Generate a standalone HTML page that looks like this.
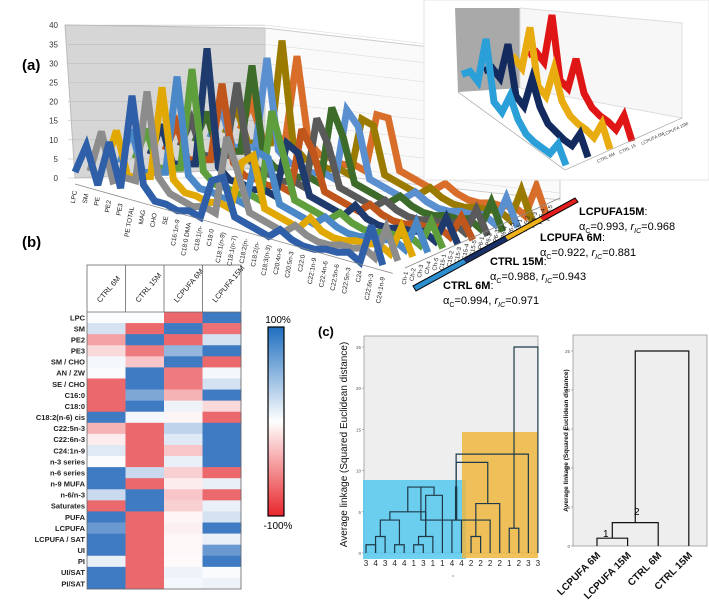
<!DOCTYPE html>
<html><head><meta charset="utf-8">
<style>
html,body{margin:0;padding:0;background:#fff;}
svg{display:block;font-family:"Liberation Sans",sans-serif;}
</style></head>
<body>
<svg id="fig" width="709" height="600" viewBox="0 0 709 600">
  <text x="22" y="70" font-size="15" font-weight="bold">(a)</text>
  <text x="22" y="247" font-size="15" font-weight="bold">(b)</text>
  <text x="318" y="336" font-size="13" font-weight="bold">(c)</text>

  <g>
    <polygon points="65,25 265,28 265,168 75,178" fill="#d6d6d6" stroke="#bbb"/>
    <polygon points="265,28 560,62 560,200 265,168" fill="#fafafa" stroke="#ccc"/>
    <g id="grid3d"></g>
    <g id="ribbons"></g>
    <g id="axis3d"></g>
  </g>

  <g>
    <rect x="424" y="0" width="285" height="180" fill="#fff" stroke="#e4e4e4"/>
    <polygon points="455,8 520,8 520,88 458,92" fill="#a9a9a9"/>
    <polygon points="520,8 682,23 682,118 520,88" fill="#f7f7f7" stroke="#ddd"/>
    <g id="inset"></g>
  </g>

  <g>
    <polygon points="413,286 463,259 466,263 416,291" fill="#2e8fd0"/>
    <polygon points="463,259 505,236 508,240 466,263" fill="#172f66"/>
    <polygon points="505,236 540,217 543,221 508,240" fill="#f0b21a"/>
    <polygon points="540,217 575,198 578,202 543,221" fill="#e21d1d"/>
    <polygon points="413,286 575,198 578,202 416,291" fill="none" stroke="#000" stroke-width="1"/>
    <g font-size="11">
      <text x="579" y="215" font-weight="bold">LCPUFA15M<tspan font-weight="normal">:</tspan></text>
      <text x="579" y="230">α<tspan font-size="7" dy="3">C</tspan><tspan dy="-3">=0.993, </tspan><tspan font-style="italic">r</tspan><tspan font-size="7" dy="3" font-style="italic">IC</tspan><tspan dy="-3">=0.968</tspan></text>
      <text x="540" y="241" font-weight="bold">LCPUFA 6M<tspan font-weight="normal">:</tspan></text>
      <text x="540" y="256">α<tspan font-size="7" dy="3">C</tspan><tspan dy="-3">=0.922, </tspan><tspan font-style="italic">r</tspan><tspan font-size="7" dy="3" font-style="italic">IC</tspan><tspan dy="-3">=0.881</tspan></text>
      <text x="490" y="265" font-weight="bold">CTRL 15M<tspan font-weight="normal">:</tspan></text>
      <text x="490" y="280">α<tspan font-size="7" dy="3">C</tspan><tspan dy="-3">=0.988, </tspan><tspan font-style="italic">r</tspan><tspan font-size="7" dy="3" font-style="italic">IC</tspan><tspan dy="-3">=0.943</tspan></text>
      <text x="443" y="289" font-weight="bold">CTRL 6M<tspan font-weight="normal">:</tspan></text>
      <text x="443" y="304">α<tspan font-size="7" dy="3">C</tspan><tspan dy="-3">=0.994, </tspan><tspan font-style="italic">r</tspan><tspan font-size="7" dy="3" font-style="italic">IC</tspan><tspan dy="-3">=0.971</tspan></text>
    </g>
  </g>

  <g id="heatmap"></g>
  <defs>
    <linearGradient id="cbar" x1="0" y1="0" x2="0" y2="1">
      <stop offset="0" stop-color="#1f6fc0"/>
      <stop offset="0.5" stop-color="#ffffff"/>
      <stop offset="1" stop-color="#e8262c"/>
    </linearGradient>
  </defs>
  <rect x="268" y="327" width="16" height="189" fill="url(#cbar)" stroke="#000" stroke-width="1.2"/>
  <text x="278" y="323" font-size="10" text-anchor="middle">100%</text>
  <text x="278" y="529" font-size="10" text-anchor="middle">-100%</text>

  <g id="dendro1"></g>
  <g id="dendro2"></g>

<script>
const NS='http://www.w3.org/2000/svg';
function mk(tag,attrs,parent){const e=document.createElementNS(NS,tag);for(const k in attrs)e.setAttribute(k,attrs[k]);parent.appendChild(e);return e;}

const cats3d=['LPC','SM','PE','PE2','PE3','PE TOTAL','MAG','CHO','SE','C16:1n-9','C18:0 DMA','C18:1(n-','C18:0','C18:1(n-9)','C18:1(n-7)','C18:2(n-','C18:2(n-','C18:3(n-3)','C20:4n-6','C20:5n-3','C22:0','C22:1n-9','C22:4n-6','C22:5n-6','C22:5n-3','C24','C22:6n-3','C24:1n-9'];
const seriesTicks3d=['Ch-1','Ch-2','Ch-3','Ch-4','Ch-5','C15-1','C15-2','C15-3','C15-4','C15-5','P6-1','P6-2','P6-3','P6-4','P6-5','P15-1','P15-2','P15-3','P15-4','P15-5'];
const yTicks3d=[0,5,10,15,20,25,30,35,40];
const s3d0=[3,12,1,15,2,31,5,1,1,0,1,0,12,14,3,2,1,0,3,1,0,0,1,1,2,0,12,1];
const s3d1=[2,15,1,3,3,31,6,2,1,0,1,0,24,14,3,2,1,0,3,1,0,0,1,1,2,0,10,1];
const s3d2=[2,14,1,2,3,31,4,1,1,0,1,0,15,18,3,2,1,0,4,1,0,0,1,1,2,0,9,1];
const s3d3=[2,13,1,2,3,33,4,1,1,0,1,0,17,16,3,2,1,0,3,1,0,0,1,1,2,0,9,1];
const s3d4=[2,12,1,2,3,34,4,1,1,0,1,0,28,16,3,2,1,0,3,1,0,0,1,1,2,0,8,1];
const s3d5=[2,12,1,2,3,39,4,1,1,0,1,0,17,15,3,2,1,0,4,1,0,0,1,1,2,0,8,1];
const s3d6=[2,11,1,2,3,27,4,1,1,0,1,0,20,14,3,2,1,0,3,1,0,0,1,1,2,0,7,1];
const s3d7=[2,11,1,2,3,26,4,1,1,0,1,0,22,15,3,2,1,0,3,1,0,0,1,1,2,0,8,1];
const s3d8=[2,12,1,2,3,30,4,1,1,0,1,0,24,16,3,2,1,0,3,1,0,0,1,1,2,0,9,1];
const s3d9=[2,12,1,2,3,31,4,1,1,0,1,0,22,18,3,2,1,0,3,1,0,0,1,1,2,0,9,1];
const s3d10=[2,11,1,2,3,35,4,1,1,0,1,0,18,17,3,2,1,0,3,1,0,0,1,1,2,0,10,1];
const s3d11=[2,11,1,2,3,29,4,1,1,0,1,0,18,18,3,2,1,0,3,1,0,0,1,1,2,0,10,1];
const series3d=[s3d0,s3d1,s3d2,s3d3,s3d4,s3d5,s3d6,s3d7,s3d8,s3d9,s3d10,s3d11];
const colors3d=['#2e5fa8','#8c8c8c','#e0a800','#4a88c8','#5f9e3c','#1f3b6e','#c0561b','#5a5a5a','#3d6b2a','#5a8fd0','#9b7a00','#d86e2a'];

function px3(c,s){return 75+c*11.4+s*15;}
function py3(c,s,v){return 182+c*3.2-s*4.2-v*3.3;}

(function(){
  const grid=document.getElementById('grid3d');
  const ax=document.getElementById('axis3d');
  yTicks3d.forEach(t=>{
    const y=178-t*3.82;
    mk('line',{x1:68,y1:y,x2:265,y2:y,stroke:'#bdbdbd','stroke-width':0.6},grid);
    mk('line',{x1:265,y1:y,x2:560,y2:y+34,stroke:'#ddd','stroke-width':0.6},grid);
    const tx=mk('text',{x:58,y:y+3,'font-size':8,'text-anchor':'end',fill:'#333'},ax);
    tx.textContent=t;
    
    
  });
  const rib=document.getElementById('ribbons');
  for(let s=series3d.length-1;s>=0;s--){
    const pts=series3d[s].map((v,c)=>px3(c,s)+','+py3(c,s,v)).join(' ');
    const pl=mk('polyline',{points:pts,fill:'none',stroke:colors3d[s],'stroke-width':7,'stroke-linejoin':'miter','stroke-miterlimit':3},rib);
    
    
  }
  mk('line',{x1:75,y1:184,x2:px3(cats3d.length-1,0)+10,y2:py3(cats3d.length-1,0,0)+5,stroke:'#888','stroke-width':0.8},ax);
  cats3d.forEach((c,i)=>{
    const x=px3(i,0)+2,y=py3(i,0,0)+9;
    const t=mk('text',{x:x,y:y,'font-size':6.5,'text-anchor':'end',transform:`rotate(-80 ${x} ${y})`,fill:'#222'},ax);
    t.textContent=c;
    
    
  });
  mk('line',{x1:405,y1:268,x2:560,y2:198,stroke:'#888','stroke-width':0.8},ax);
  seriesTicks3d.forEach((c,i)=>{
    const x=408+i*7.6,y=272-i*3.5;
    const t=mk('text',{x:x,y:y,'font-size':6,'text-anchor':'end',transform:`rotate(-80 ${x} ${y})`,fill:'#222'},ax);
    t.textContent=c;
    
    
  });
})();

const insetSeries0=[8,12,10,32,6,4,14,6,2,1,1,1,8,1];
const insetSeries1=[6,10,8,26,5,3,18,8,3,2,1,1,9,1];
const insetSeries2=[7,11,9,30,6,4,19,7,3,2,2,1,10,1];
const insetSeries3=[6,10,8,32,5,4,20,7,3,2,2,1,10,1];
const insetSeriesAll=[insetSeries0,insetSeries1,insetSeries2,insetSeries3];
const insetColors=['#2a9fd8','#132a5e','#e8ac10','#e01515'];
const insetNames=['CTRL 6M','CTRL 15','LCPUFA 6M','LCPUFA 15M'];
(function(){
  const g=document.getElementById('inset');
  for(let s=insetSeriesAll.length-1;s>=0;s--){
    const pts=insetSeriesAll[s].map((v,c)=>(462+c*8+s*22)+','+(92+c*5.8-s*8-v*2.2)).join(' ');
    const pl=mk('polyline',{points:pts,fill:'none',stroke:insetColors[s],'stroke-width':7,'stroke-linejoin':'miter'},g);
    
    
  }
  mk('line',{x1:458,y1:92,x2:565,y2:170,stroke:'#999','stroke-width':0.6},g);
  mk('line',{x1:565,y1:170,x2:682,y2:118,stroke:'#999','stroke-width':0.6},g);
  insetNames.forEach((n,i)=>{
    const x=598+i*22,y=163-i*9;
    const t=mk('text',{x:x,y:y,'font-size':4.5,fill:'#444',transform:`rotate(-25 ${x} ${y})`},g);
    t.textContent=n;
    
    
  });
})();

const hmCols=['CTRL 6M','CTRL 15M','LCPUFA 6M','LCPUFA 15M'];
const hmRows=['LPC','SM','PE2','PE3','SM / CHO','AN / ZW','SE / CHO','C16:0','C18:0','C18:2(n-6) cis','C22:5n-3','C22:6n-3','C24:1n-9','n-3 series','n-6 series','n-9 MUFA','n-6/n-3','Saturates','PUFA','LCPUFA','LCPUFA / SAT','UI','PI','UI/SAT','PI/SAT'];
const hmCtrl6=[0.02,0.2,-0.5,-0.2,0.05,0.03,-0.8,-0.8,-0.8,0.9,-0.4,-0.1,0.15,0.03,0.9,0.9,0.25,-0.8,0.9,0.7,0.9,0.9,0.1,0.9,0.9];
const hmCtrl15=[0.02,-0.8,0.9,-0.7,-0.3,0.9,0.9,0.6,0.9,0.05,-0.8,-0.8,-0.8,-0.8,0.25,-0.8,0.9,0.9,-0.8,-0.8,-0.8,-0.8,-0.8,-0.8,-0.8];
const hmLc6=[-0.8,0.9,-0.8,0.5,0.9,-0.7,-0.7,-0.4,0.08,-0.05,0.3,0.15,-0.3,0.1,-0.25,-0.1,-0.3,-0.25,-0.05,-0.08,-0.04,-0.04,-0.03,0.08,0.05];
const hmLc15=[0.9,-0.75,0.2,0.9,-0.8,0.05,0.2,0.9,-0.2,-0.8,0.9,0.9,0.9,0.9,-0.8,0.1,-0.8,0.1,0.2,0.9,0.1,0.7,0.9,0.03,0.08];
const hmData=[hmCtrl6,hmCtrl15,hmLc6,hmLc15];
function hmColor(v){
  const a=Math.min(1,Math.abs(v)/0.9);
  const tgt=v>=0?[63,123,194]:[233,85,90];
  const c=tgt.map(t=>Math.round(255+(t-255)*a));
  return `rgb(${c[0]},${c[1]},${c[2]})`;
}
(function(){
  const g=document.getElementById('heatmap');
  const x0=87,cw=38.5,y0=312,rh=11.08,top=265;
  hmData.forEach((col,ci)=>{
    col.forEach((v,ri)=>{
      const r=mk('rect',{x:x0+ci*cw,y:y0+ri*rh,width:cw+0.3,height:rh+0.3,fill:hmColor(v)},g);
      
      
    });
  });
  mk('rect',{x:x0,y:top,width:cw*4,height:y0+rh*hmRows.length-top,fill:'none',stroke:'#666','stroke-width':0.8},g);
  mk('line',{x1:x0,y1:y0,x2:x0+cw*4,y2:y0,stroke:'#666','stroke-width':0.8},g);
  hmCols.forEach((c,ci)=>{
    if(ci>0)mk('line',{x1:x0+ci*cw,y1:top,x2:x0+ci*cw,y2:y0,stroke:'#666','stroke-width':0.8},g);
    const x=x0+ci*cw+cw/2-6,y=y0-9;
    const t=mk('text',{x:x,y:y,'font-size':7.5,transform:`rotate(-50 ${x} ${y})`,fill:'#222'},g);
    t.textContent=c;
    
    
  });
  hmRows.forEach((r,ri)=>{
    const t=mk('text',{x:x0-2,y:y0+ri*rh+rh/2+2.8,'font-size':7.5,'font-weight':'bold','text-anchor':'end',fill:'#222'},g);
    t.textContent=r;
    
    
  });
})();

const d1Leaves=['3','4','3','4','4','1','3','1','1','4','4','2','2','2','2','1','2','3','3'];
const d1MergeA=[0,1,3,20,5,23,22,24,9,25,11,28,29,27,15,31,32,33];
const d1MergeB=[1,2,4,21,6,7,24,8,10,26,12,13,14,30,16,32,17,18];
const d1Heights=[1,2,1,4,1,2,5,7,4,8,2,4,6,8,3,11,12,25];
const d1Ticks=[0,5,10,15,20,25];
const d2Leaves=['LCPUFA 6M','LCPUFA 15M','CTRL 6M','CTRL 15M'];
const d2MergeA=[0,4,5];
const d2MergeB=[1,2,3];
const d2Heights=[1,3,25];
const d2Ticks=[0,5,10,15,20,25];

function drawDendro(gid,o){
  const g=document.getElementById(gid);
  mk('rect',{x:o.x0,y:o.yTop,width:o.x1-o.x0,height:o.y0-o.yTop,fill:'#eeeeee',stroke:'#999','stroke-width':0.8},g);
  const yS=v=>o.y0-v*(o.y0-o.y25)/25;
  if(o.hl){o.hl.forEach(h=>{const r=mk('rect',{x:h[0],y:h[1],width:h[2],height:h[3],fill:h[4],opacity:0.85},g);
    });}
  o.ticks.forEach(t=>{
    mk('line',{x1:o.x0-2,y1:yS(t),x2:o.x0,y2:yS(t),stroke:'#888','stroke-width':0.6},g);
    const tx=mk('text',{x:o.x0-3,y:yS(t)+2,'font-size':4.5,'text-anchor':'end',fill:'#555'},g);
    tx.textContent=t;
    
    
  });
  const xs=[],hs=[];
  o.leaves.forEach((l,i)=>{xs.push(o.lx0+i*o.dx);hs.push(0);});
  o.A.forEach((a,k)=>{
    const b=o.B[k],h=o.H[k];
    const p=mk('polyline',{points:`${xs[a]},${yS(hs[a])} ${xs[a]},${yS(h)} ${xs[b]},${yS(h)} ${xs[b]},${yS(hs[b])}`,fill:'none',stroke:o.col(xs[a],xs[b]),'stroke-width':o.sw},g);
    
    
    xs.push((xs[a]+xs[b])/2);hs.push(h);
  });
  o.leaves.forEach((l,i)=>{
    const x=o.lx0+i*o.dx;
    let t;
    if(o.rot){t=mk('text',{x:x+4,y:o.labY,'font-size':10,'font-weight':'bold','text-anchor':'end',transform:`rotate(-45 ${x+4} ${o.labY})`,fill:'#111'},g);}
    else{t=mk('text',{x:x,y:o.labY,'font-size':8,'text-anchor':'middle',fill:'#222'},g);}
    t.textContent=l;
    
    
  });
  const yt=mk('text',{x:o.titleX,y:(o.yTop+o.y0)/2,'font-size':o.titleSize,'font-weight':o.titleW,'text-anchor':'middle',transform:`rotate(-90 ${o.titleX} ${(o.yTop+o.y0)/2})`,fill:'#111'},g);
  yt.textContent='Average linkage (Squared Euclidean distance)';
  
  
}
drawDendro('dendro1',{x0:364,x1:538,yTop:336,y0:553,y25:347,lx0:366,dx:9.55,leaves:d1Leaves,A:d1MergeA,B:d1MergeB,H:d1Heights,ticks:d1Ticks,
  col:()=>'#1d3a4a',sw:1.2,labY:566,titleX:347,titleSize:10,titleW:'normal',
  hl:[[363,480,103,79,'#55c8ef','cluster-highlight-blue'],[462,432,76,126,'#eeb640','cluster-highlight-orange']]});
drawDendro('dendro2',{x0:573,x1:707,yTop:335,y0:546,y25:351,lx0:597,dx:30.6,leaves:d2Leaves,A:d2MergeA,B:d2MergeB,H:d2Heights,ticks:d2Ticks,
  col:()=>'#111',sw:1.2,labY:556,rot:true,titleX:568,titleSize:6.5,titleW:'bold'});
</script>
<text x="603" y="537" font-size="10">1</text>
<text x="634" y="515" font-size="10">2</text>
<text x="452" y="577" font-size="4" fill="#666">x</text>
</svg>
</body></html>
